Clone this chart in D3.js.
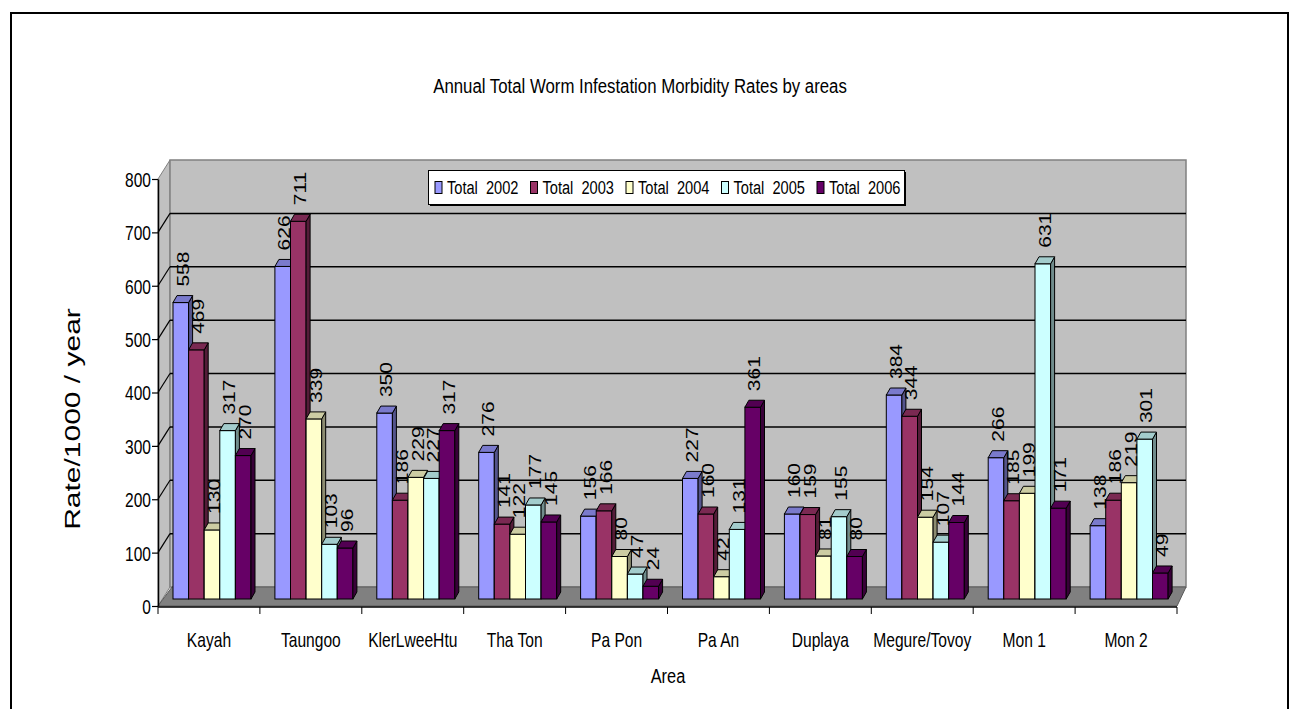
<!DOCTYPE html>
<html>
<head>
<meta charset="utf-8">
<script src="https://cdn.jsdelivr.net/npm/d3@7"></script>
<style>
  html, body { margin: 0; padding: 0; background: #ffffff; }
  svg { display: block; }
  text { font-family: "Liberation Sans", Arial, sans-serif; fill: #000; }
</style>
</head>
<body>
<svg id="chart" width="1291" height="709"></svg>
<script>
// Morbidity rates per 1000 per year, by area and year
const areas = ["Kayah", "Taungoo", "KlerLweeHtu", "Tha Ton", "Pa Pon", "Pa An", "Duplaya", "Megure/Tovoy", "Mon 1", "Mon 2"];
const seriesNames = ["Total  2002", "Total  2003", "Total  2004", "Total  2005", "Total  2006"];
const total2002 = [558, 626, 350, 276, 156, 227, 160, 384, 266, 138];
const total2003 = [469, 711, 186, 141, 166, 160, 159, 344, 185, 186];
const total2004 = [130, 339, 229, 122, 80, 42, 81, 154, 199, 219];
const total2005 = [317, 103, 227, 177, 47, 131, 155, 107, 631, 301];
const total2006 = [270, 96, 317, 145, 24, 361, 80, 144, 171, 49];
const yTicks = [0, 100, 200, 300, 400, 500, 600, 700, 800];
const seriesColors = ["#9999FF", "#993366", "#FFFFCC", "#CCFFFF", "#660066"];

const seriesValues = [total2002, total2003, total2004, total2005, total2006];

const svg = d3.select("#chart");
const SX = 0.78; // horizontal squeeze applied to all lettering

function shade(c, k) {
  const r = d3.rgb(c);
  return d3.rgb(r.r * k, r.g * k, r.b * k).formatHex();
}

// Outer frame
svg.append("rect").attr("x", 11).attr("y", 13).attr("width", 1277).attr("height", 720)
  .attr("fill", "#fff").attr("stroke", "#000").attr("stroke-width", 2);

// Layout of the 3-D box
const left = 158, right = 1177, front = 606;
const depthX = 12, depthY = -19;
const yAxis = d3.scaleLinear().domain([0, 800]).range([front, 179]);
const yBar = d3.scaleLinear().domain([0, 800]).range([599, 174]);
const x0 = d3.scaleBand().domain(areas).range([left, right]);
const x1 = d3.scaleBand().domain(seriesNames).range([0, 78]);
const groupOffset = 15;
const barDX = 4, barDY = -7;

const top800 = yAxis(800);

// Side wall
svg.append("polygon")
  .attr("points", [[left, front], [left, top800], [left + depthX, top800 + depthY], [left + depthX, front + depthY]].join(" "))
  .attr("fill", "#c0c0c0").attr("stroke", "#808080").attr("stroke-width", 1);

// Back wall
svg.append("rect")
  .attr("x", left + depthX).attr("y", top800 + depthY)
  .attr("width", (right + 9) - (left + depthX)).attr("height", front - top800)
  .attr("fill", "#c0c0c0").attr("stroke", "#808080").attr("stroke-width", 1.5);

// Floor
svg.append("polygon")
  .attr("points", [[left, front], [right, front], [right + 9, front + depthY], [left + depthX + 2, front + depthY]].join(" "))
  .attr("fill", "#808080").attr("stroke", "#5a5a5a").attr("stroke-width", 1);

// Gridlines on back and side walls
const gridVals = yTicks.filter(v => v > 0 && v < 800);
svg.append("g").selectAll("line.back").data(gridVals).join("line")
  .attr("x1", left + depthX).attr("x2", right + 9)
  .attr("y1", d => yAxis(d) + depthY).attr("y2", d => yAxis(d) + depthY)
  .attr("stroke", "#000").attr("stroke-width", 1.5);
svg.append("g").selectAll("line.side").data(gridVals).join("line")
  .attr("x1", left).attr("x2", left + depthX)
  .attr("y1", d => yAxis(d)).attr("y2", d => yAxis(d) + depthY)
  .attr("stroke", "#000").attr("stroke-width", 1.2);

// Y axis
const yAxisG = svg.append("g").attr("transform", `translate(${left},0)`)
  .call(d3.axisLeft(yAxis).tickValues(yTicks).tickSize(6).tickSizeOuter(0).tickFormat(d3.format("d")));
yAxisG.select(".domain").attr("stroke", "#000").attr("stroke-width", 1.5);
yAxisG.selectAll(".tick line").attr("stroke", "#000").attr("stroke-width", 1.2);
yAxisG.selectAll(".tick text")
  .attr("font-size", 21).attr("font-family", "Liberation Sans, Arial, sans-serif")
  .attr("x", null).attr("dy", null)
  .attr("text-anchor", "end").attr("dominant-baseline", "central")
  .attr("transform", `translate(-7,0) scale(${SX - 0.04},1)`);

// X axis
const catEdges = areas.map(a => x0(a)).concat([right]);
svg.append("line").attr("x1", left).attr("x2", right).attr("y1", front + 1).attr("y2", front + 1)
  .attr("stroke", "#000").attr("stroke-width", 1.5);
svg.append("g").selectAll("line").data(catEdges).join("line")
  .attr("x1", d => d).attr("x2", d => d)
  .attr("y1", front + 1).attr("y2", front + 8)
  .attr("stroke", "#000").attr("stroke-width", 1);
svg.append("g").selectAll("text").data(areas).join("text")
  .attr("transform", d => `translate(${x0(d) + x0.bandwidth() / 2},647) scale(${SX},1)`)
  .attr("text-anchor", "middle").attr("font-size", 20)
  .text(d => d);

// Bars
const bars = [];
areas.forEach((a, i) => {
  seriesNames.forEach((s, j) => {
    bars.push({ area: a, series: s, j, value: seriesValues[j][i] });
  });
});

const barG = svg.append("g");
bars.forEach(b => {
  const x = x0(b.area) + groupOffset + x1(b.series);
  const w = x1.bandwidth();
  const yt = yBar(b.value);
  const yb = yBar(0);
  const c = seriesColors[b.j];
  const g = barG.append("g");
  g.append("rect").attr("x", x).attr("y", yt).attr("width", w).attr("height", yb - yt)
    .attr("fill", c).attr("stroke", "#000").attr("stroke-width", 1);
  g.append("polygon")
    .attr("points", [[x + w, yt], [x + w + barDX, yt + barDY], [x + w + barDX, yb + barDY], [x + w, yb]].join(" "))
    .attr("fill", shade(c, 0.55)).attr("stroke", "#000").attr("stroke-width", 1);
  g.append("polygon")
    .attr("points", [[x, yt], [x + barDX, yt + barDY], [x + w + barDX, yt + barDY], [x + w, yt]].join(" "))
    .attr("fill", shade(c, 0.8)).attr("stroke", "#000").attr("stroke-width", 1);
});

// Value labels, rotated
svg.append("g").selectAll("text").data(bars).join("text")
  .attr("transform", d => {
    const cx = x0(d.area) + groupOffset + x1(d.series) + x1.bandwidth() / 2 + 2;
    const cy = yBar(d.value) - 16;
    return `translate(${cx},${cy}) scale(${SX},1) rotate(-90)`;
  })
  .attr("dy", "0.35em").attr("text-anchor", "start").attr("font-size", 21)
  .text(d => d.value);

// Legend
const legend = svg.append("g");
legend.append("rect").attr("x", 430).attr("y", 172).attr("width", 476).attr("height", 34)
  .attr("fill", "#000");
legend.append("rect").attr("x", 428.5).attr("y", 170.5).attr("width", 476).attr("height", 34)
  .attr("fill", "#fff").attr("stroke", "#000").attr("stroke-width", 1);
seriesNames.forEach((s, j) => {
  const lx = 435 + j * 95.5;
  legend.append("rect").attr("x", lx).attr("y", 181.5).attr("width", 7).attr("height", 12)
    .attr("fill", seriesColors[j]).attr("stroke", "#000").attr("stroke-width", 1);
  legend.append("text")
    .attr("transform", `translate(${lx + 12},194) scale(${SX - 0.01},1)`)
    .attr("font-size", 19).attr("xml:space", "preserve").style("white-space", "pre")
    .text(s);
});

// Title
svg.append("text")
  .attr("transform", `translate(640,93) scale(${SX + 0.02},1)`)
  .attr("text-anchor", "middle").attr("font-size", 21)
  .text("Annual Total Worm Infestation Morbidity Rates by areas");

// Axis titles
svg.append("text")
  .attr("transform", `translate(668,683) scale(${SX},1)`)
  .attr("text-anchor", "middle").attr("font-size", 21)
  .text("Area");
svg.append("text")
  .attr("transform", `translate(72,419) scale(0.76,1) rotate(-90)`)
  .attr("text-anchor", "middle").attr("dy", "0.35em").attr("font-size", 30)
  .text("Rate/1000 / year");
</script>
</body>
</html>
